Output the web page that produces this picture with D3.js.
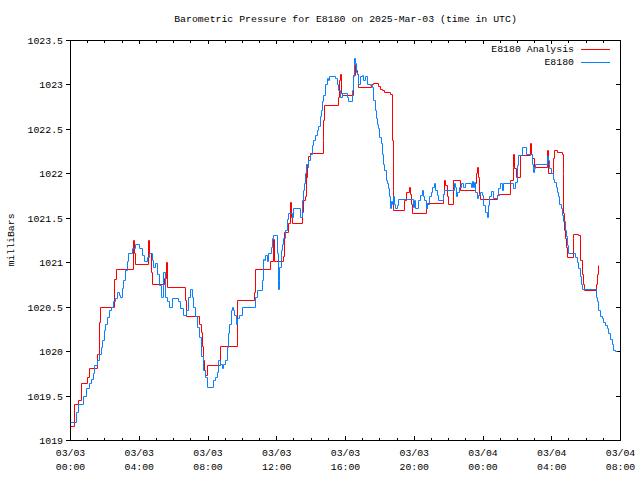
<!DOCTYPE html>
<html><head><meta charset="utf-8">
<script src="https://cdn.jsdelivr.net/npm/d3@7"></script>
<style>
body{margin:0;background:#fff;}
svg text{font-family:"Liberation Mono","DejaVu Sans Mono",monospace;font-size:9.85px;fill:#000;}
</style></head><body>
<svg id="c" width="640" height="480"></svg>
<script>
const title = "Barometric Pressure for E8180 on 2025-Mar-03 (time in UTC)";
const yLabel = "milliBars";
const seriesNames = ["E8180 Analysis", "E8180"];
const seriesColors = ["#ff0000", "#0a80ff"];
const yTicks = [1019, 1019.5, 1020, 1020.5, 1021, 1021.5, 1022, 1022.5, 1023, 1023.5];
const yTickLabels = ["1019", "1019.5", "1020", "1020.5", "1021", "1021.5", "1022", "1022.5", "1023", "1023.5"];
const xTickHours = [0, 4, 8, 12, 16, 20, 24, 28, 32];
const xTickDates = ["03/03", "03/03", "03/03", "03/03", "03/03", "03/03", "03/04", "03/04", "03/04"];
const xTickTimes = ["00:00", "04:00", "08:00", "12:00", "16:00", "20:00", "00:00", "04:00", "08:00"];

// minutes since 2025-03-03 00:00 UTC
const analysisMinutes = [0,15,29,38,58,67,95,101,104,155,159,219,223,228,273,277,283,287,328,335,340,401,405,451,456,460,463,467,472,477,522,582,642,647,698,708,711,742,748,762,767,771,774,809,815,820,824,826,829,832,838,882,884,888,936,939,944,946,948,987,995,998,1003,1007,1051,1057,1076,1082,1088,1096,1117,1124,1126,1129,1167,1173,1185,1187,1189,1193,1243,1247,1303,1306,1309,1315,1318,1336,1361,1414,1417,1422,1425,1428,1431,1492,1499,1536,1545,1548,1551,1557,1571,1607,1609,1612,1620,1664,1667,1670,1687,1691,1701,1716,1720,1722,1725,1728,1732,1736,1755,1757,1775,1780,1786,1790,1794,1836,1839,1842];
const analysisValues = [1019.16,1019.41,1019.45,1019.64,1019.71,1019.81,1019.97,1020.33,1020.50,1020.81,1020.92,1021.25,1021.10,1020.98,1021.25,1021.10,1020.89,1020.75,1020.82,1021.00,1020.72,1020.58,1020.40,1020.31,1020.22,1020.06,1019.90,1019.79,1019.73,1019.84,1020.06,1020.58,1020.67,1020.92,1021.01,1021.26,1021.01,1021.07,1021.34,1021.44,1021.68,1021.51,1021.44,1021.57,1021.70,1021.74,1022.11,1021.96,1022.07,1022.19,1022.23,1022.37,1022.60,1022.77,1022.86,1023.05,1023.12,1022.90,1022.88,1023.11,1023.23,1023.16,1023.12,1022.97,1023.00,1023.02,1022.98,1022.95,1022.94,1022.92,1022.89,1022.37,1021.81,1021.59,1021.70,1021.79,1021.85,1021.77,1021.66,1021.55,1021.61,1021.67,1021.77,1021.92,1021.87,1021.74,1021.66,1021.92,1021.81,1021.89,1022.00,1022.07,1021.96,1021.77,1021.71,1021.76,1021.77,1021.92,1022.07,1022.22,1022.06,1021.96,1022.21,1022.34,1022.22,1022.17,1022.07,1022.26,1022.15,1022.00,1022.17,1022.26,1022.24,1022.22,1022.00,1021.55,1021.36,1021.27,1021.17,1021.06,1021.27,1021.32,1021.31,1021.02,1020.87,1020.76,1020.69,1020.76,1020.87,1020.97];

const stationMinutes = [0,20,29,47,56,67,73,79,85,95,102,107,112,117,123,129,137,142,149,157,165,170,175,180,186,192,198,204,215,227,242,250,258,270,277,285,291,297,305,312,319,326,331,338,346,355,377,384,393,405,413,419,425,431,438,445,452,459,465,471,477,500,506,512,518,524,530,535,541,547,553,556,561,566,570,574,580,584,591,599,646,652,669,673,677,682,689,692,700,704,710,721,725,727,731,735,740,745,751,756,762,775,780,803,809,815,818,820,824,828,832,838,844,850,855,861,867,873,876,881,884,890,896,899,905,925,931,937,943,948,968,972,983,987,991,995,998,1003,1007,1012,1018,1024,1030,1036,1047,1053,1059,1065,1068,1073,1076,1080,1085,1088,1094,1097,1102,1106,1109,1114,1117,1120,1123,1126,1131,1135,1140,1146,1196,1201,1206,1216,1222,1228,1231,1236,1243,1247,1254,1259,1264,1271,1275,1280,1286,1301,1306,1340,1344,1348,1352,1359,1364,1373,1379,1399,1402,1406,1410,1414,1420,1425,1431,1437,1443,1449,1455,1460,1464,1469,1478,1490,1495,1501,1507,1513,1548,1554,1559,1565,1578,1592,1612,1615,1620,1623,1664,1667,1673,1678,1685,1690,1697,1701,1705,1708,1713,1718,1722,1727,1732,1736,1740,1763,1769,1775,1780,1784,1787,1836,1841,1844,1850,1856,1862,1868,1874,1879,1885,1891,1897,1903,1908];
const stationValues = [1019.20,1019.31,1019.40,1019.49,1019.59,1019.64,1019.69,1019.75,1019.84,1019.90,1019.97,1020.05,1020.12,1020.24,1020.31,1020.38,1020.46,1020.50,1020.56,1020.60,1020.67,1020.63,1020.61,1020.71,1020.80,1020.91,1021.01,1021.10,1021.16,1021.20,1021.16,1021.08,1021.01,1021.06,1021.10,1021.03,1020.95,1020.99,1020.87,1020.74,1020.61,1020.89,1020.61,1020.56,1020.50,1020.60,1020.56,1020.48,1020.41,1020.46,1020.61,1020.70,1020.61,1020.50,1020.39,1020.27,1020.16,1019.94,1019.79,1019.71,1019.60,1019.67,1019.71,1019.77,1019.90,1019.86,1019.81,1019.86,1019.90,1020.05,1020.20,1020.31,1020.46,1020.50,1020.46,1020.41,1020.31,1020.37,1020.41,1020.50,1020.61,1020.69,1020.80,1021.04,1021.02,1021.08,1021.01,1021.10,1021.17,1021.27,1021.31,1021.10,1020.80,1020.70,1020.95,1021.14,1021.21,1021.27,1021.36,1021.49,1021.55,1021.51,1021.61,1021.51,1021.70,1021.81,1021.89,1022.00,1022.11,1022.08,1022.15,1022.22,1022.32,1022.37,1022.43,1022.49,1022.53,1022.64,1022.71,1022.81,1022.88,1023.01,1023.07,1023.05,1023.10,1023.07,1023.01,1022.94,1022.86,1022.90,1022.86,1022.81,1022.94,1023.09,1023.30,1023.24,1023.14,1023.12,1023.01,1023.09,1023.11,1023.05,1023.09,1023.01,1022.99,1022.97,1022.83,1022.71,1022.62,1022.56,1022.51,1022.41,1022.34,1022.22,1022.11,1022.04,1021.92,1021.89,1021.83,1021.74,1021.61,1021.69,1021.66,1021.74,1021.66,1021.61,1021.64,1021.71,1021.62,1021.70,1021.61,1021.70,1021.76,1021.81,1021.74,1021.70,1021.61,1021.66,1021.74,1021.79,1021.85,1021.89,1021.81,1021.76,1021.70,1021.77,1021.81,1021.89,1021.85,1021.74,1021.79,1021.85,1021.89,1021.85,1021.89,1021.85,1021.91,1021.85,1021.90,1021.79,1021.72,1021.76,1021.79,1021.76,1021.64,1021.57,1021.51,1021.64,1021.74,1021.80,1021.72,1021.76,1021.83,1021.89,1021.81,1021.89,1021.83,1021.90,1022.09,1022.21,1022.30,1022.22,1022.11,1022.02,1022.06,1022.10,1022.19,1022.15,1022.06,1022.00,1021.94,1021.90,1021.85,1021.79,1021.74,1021.66,1021.61,1021.53,1021.46,1021.36,1021.29,1021.19,1021.10,1021.06,1021.00,1020.93,1020.84,1020.76,1020.70,1020.61,1020.56,1020.46,1020.39,1020.37,1020.33,1020.29,1020.26,1020.20,1020.14,1020.08,1020.01,1020.00,1020.00];

const start = Date.UTC(2025, 2, 3, 0, 0);
const toDate = m => new Date(start + m * 60000);

const svg = d3.select("#c");
const L = 70, R = 620, T = 40, B = 440;

const x = d3.scaleUtc().domain([toDate(0), toDate(32 * 60)]).range([L, R]);
const y = d3.scaleLinear().domain([1019, 1023.5]).range([B, T]);

const majors = xTickHours.map(h => toDate(h * 60));
const minors = d3.range(0, 33).filter(h => h % 4 !== 0).map(h => toDate(h * 60));

function styleAxis(g) {
  g.select(".domain").remove();
  g.selectAll("line").attr("stroke", "#000").attr("shape-rendering", "crispEdges");
  g.selectAll("text").remove();
}

// bottom / top ticks (inside)
svg.append("g").attr("transform", `translate(0,${B})`)
  .call(d3.axisBottom(x).tickValues(majors).tickSize(-4).tickFormat("")).call(styleAxis);
svg.append("g").attr("transform", `translate(0,${B})`)
  .call(d3.axisBottom(x).tickValues(minors).tickSize(-2.5).tickFormat("")).call(styleAxis);
svg.append("g").attr("transform", `translate(0,${T})`)
  .call(d3.axisTop(x).tickValues(majors).tickSize(-4).tickFormat("")).call(styleAxis);
svg.append("g").attr("transform", `translate(0,${T})`)
  .call(d3.axisTop(x).tickValues(minors).tickSize(-2.5).tickFormat("")).call(styleAxis);
// left ticks (outside) and right ticks (inside)
svg.append("g").attr("transform", `translate(${L},0)`)
  .call(d3.axisLeft(y).tickValues(yTicks).tickSize(4).tickFormat("")).call(styleAxis);
svg.append("g").attr("transform", `translate(${R},0)`)
  .call(d3.axisRight(y).tickValues(yTicks).tickSize(-4).tickFormat("")).call(styleAxis);

// border
svg.append("rect").attr("x", L + 0.5).attr("y", T + 0.5).attr("width", R - L).attr("height", B - T)
  .attr("fill", "none").attr("stroke", "#000").attr("shape-rendering", "crispEdges");

// y tick labels
svg.append("g").selectAll("text").data(yTicks).join("text")
  .attr("x", 63).attr("y", d => y(d) + 0.5).attr("text-anchor", "end").attr("dy", "0.35em")
  .text((d, i) => yTickLabels[i]);

// x tick labels
const xl = svg.append("g").selectAll("g").data(majors).join("g")
  .attr("transform", d => `translate(${x(d) + 0.5},0)`);
xl.append("text").attr("y", 453).attr("dy", "0.35em").attr("text-anchor", "middle").text((d, i) => xTickDates[i]);
xl.append("text").attr("y", 467).attr("dy", "0.35em").attr("text-anchor", "middle").text((d, i) => xTickTimes[i]);

// title & y label
svg.append("text").attr("x", (L + R) / 2 + 0.5).attr("y", 19).attr("dy", "0.35em").attr("text-anchor", "middle").text(title);
svg.append("text").attr("transform", `translate(11,${(T + B) / 2}) rotate(-90)`).attr("dy", "0.35em")
  .attr("text-anchor", "middle").text(yLabel);

// series (pixel-snapped step lines)
const line = d3.line()
  .x(d => Math.round(x(d.t)) + 0.5)
  .y(d => Math.round(y(d.v)) + 0.5)
  .curve(d3.curveStepAfter);
const series = [
  analysisMinutes.map((m, i) => ({ t: toDate(m), v: analysisValues[i] })),
  stationMinutes.map((m, i) => ({ t: toDate(m), v: stationValues[i] }))
];
series.forEach((s, i) => {
  svg.append("path").datum(s).attr("d", line).attr("fill", "none")
    .attr("stroke", seriesColors[i]).attr("stroke-width", 1);
});

// legend
seriesNames.forEach((n, i) => {
  const ly = 49 + i * 13;
  svg.append("text").attr("x", 574).attr("y", ly).attr("dy", "0.35em").attr("text-anchor", "end").text(n);
  svg.append("line").attr("x1", 581).attr("x2", 610).attr("y1", ly + 0.5).attr("y2", ly + 0.5)
    .attr("stroke", seriesColors[i]).attr("shape-rendering", "crispEdges");
});
</script>
</body></html>
